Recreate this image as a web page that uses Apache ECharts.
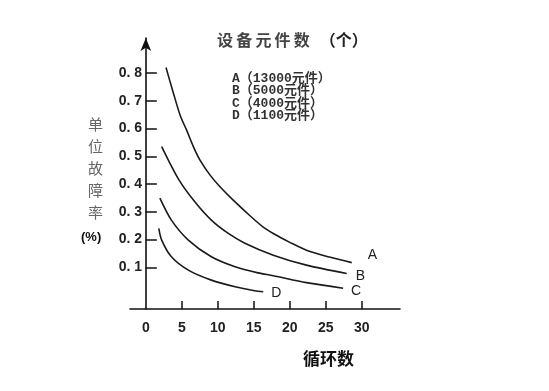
<!DOCTYPE html>
<html><head><meta charset="utf-8">
<script src="https://cdn.jsdelivr.net/npm/echarts@6/dist/echarts.min.js"></script>
<style>html,body{margin:0;padding:0;background:#fff}#c{width:549px;height:391px}</style>
</head><body><div id="c"></div>
<script>
const seriesNames = ['A', 'B', 'C', 'D'];
const legendLines = ['A（13000元件）', 'B（5000元件）', 'C（4000元件）', 'D（1100元件）'];
const curveA = [[2.8,0.82],[3.8,0.73],[4.8,0.645],[5.65,0.595],[6.6,0.535],[7.5,0.487],[8.9,0.433],[10.3,0.39],[12.1,0.343],[14.5,0.285],[16.3,0.245],[17.7,0.222],[20,0.19],[22.3,0.162],[25.5,0.137],[28.6,0.117]];
const curveB = [[2.2,0.535],[4.6,0.415],[6.8,0.336],[9.1,0.27],[11.4,0.223],[13.75,0.187],[17.7,0.144],[22.3,0.108],[27.9,0.078]];
const curveC = [[1.95,0.349],[3.55,0.27],[5.9,0.198],[9.1,0.138],[12.4,0.102],[15.6,0.08],[17.7,0.07],[22.3,0.045],[27.4,0.025]];
const curveD = [[1.8,0.24],[2.2,0.198],[3.55,0.138],[5.9,0.09],[9.1,0.054],[12.4,0.03],[15.1,0.016],[16.3,0.012]];
const xTickValues = [5, 10, 15, 20, 25, 30];
const xLabelValues = [0, 5, 10, 15, 20, 25, 30];
const yTickValues = [0.1, 0.2, 0.3, 0.4, 0.5, 0.6, 0.7, 0.8];
const titleText = '设\u2009备\u2009元\u2009件\u2009数';
const titleUnit = '（个）';
const yNameText = '单\n位\n故\n障\n率';
const yUnit = '(%)';
const xNameText = '循环数';

const curves = [curveA, curveB, curveC, curveD];
const endOffsets = [[11, -7], [4, 3], [3, 3], [3, 1]];

const chart = echarts.init(document.getElementById('c'));
const series = curves.map((c, i) => ({
  type: 'line', name: seriesNames[i], smooth: 0.3, symbol: 'none',
  lineStyle: { color: '#1a1a1a', width: 1.6 },
  endLabel: { show: true, distance: 5, offset: endOffsets[i], formatter: seriesNames[i],
    fontFamily: 'Liberation Sans, Arial, sans-serif', fontSize: 14, color: '#222' },
  data: c
}));

chart.setOption({
  animation: false,
  backgroundColor: '#fff',
  grid: { left: 130, right: 149, top: 38, bottom: 82 },
  title: [
    { text: '{a|' + titleText + '}  {b|' + titleUnit + '}', left: 217, top: 31, padding: 0,
      textStyle: { rich: {
        a: { fontFamily: 'Noto Sans CJK SC', fontSize: 16, color: '#444' },
        b: { fontFamily: 'Noto Sans CJK SC', fontSize: 16, color: '#222', fontWeight: 'bold' } } } },
    { text: legendLines.join('\n'), left: 232, top: 72, padding: 0,
      textStyle: { fontFamily: 'Liberation Mono, DejaVu Sans Mono, Noto Sans CJK SC', fontSize: 13, lineHeight: 12.5, color: '#333', fontWeight: 'bold' } },
    { text: yNameText, left: 88, top: 113, padding: 0,
      textStyle: { fontFamily: 'Noto Sans CJK SC', fontSize: 15, lineHeight: 22, color: '#666', fontWeight: 'normal' } },
    { text: yUnit, left: 81, top: 231, padding: 0,
      textStyle: { fontFamily: 'Liberation Sans, Arial', fontSize: 13, color: '#111', fontWeight: 'bold' } },
    { text: xNameText, left: 303, top: 350, padding: 0,
      textStyle: { fontFamily: 'Noto Sans CJK SC', fontSize: 17, color: '#111', fontWeight: 'bold' } }
  ],
  xAxis: {
    type: 'value', min: -2.2, max: 35.3,
    axisLine: { onZero: false, lineStyle: { color: '#111', width: 1.6 } },
    axisTick: { show: true, inside: true, length: 8, customValues: xTickValues, lineStyle: { color: '#111', width: 1.5 } },
    axisLabel: { customValues: xLabelValues, margin: 12, fontFamily: 'Liberation Sans, Arial', fontSize: 14, fontWeight: 'bold', color: '#222' },
    splitLine: { show: false }
  },
  yAxis: {
    type: 'value', min: -0.05, max: 0.926,
    axisLine: { show: true, onZero: true, symbol: ['none', 'arrow'], symbolSize: [8, 13], lineStyle: { color: '#111', width: 1.6 } },
    axisTick: { show: true, inside: true, length: 11, customValues: yTickValues, lineStyle: { color: '#111', width: 1.5 } },
    axisLabel: { customValues: yTickValues, margin: -12, fontFamily: 'Liberation Sans, Arial', fontSize: 14, fontWeight: 'bold', color: '#222',
      formatter: v => v.toFixed(1).replace('.', '. ') },
    splitLine: { show: false }
  },
  series: series
});
</script></body></html>
